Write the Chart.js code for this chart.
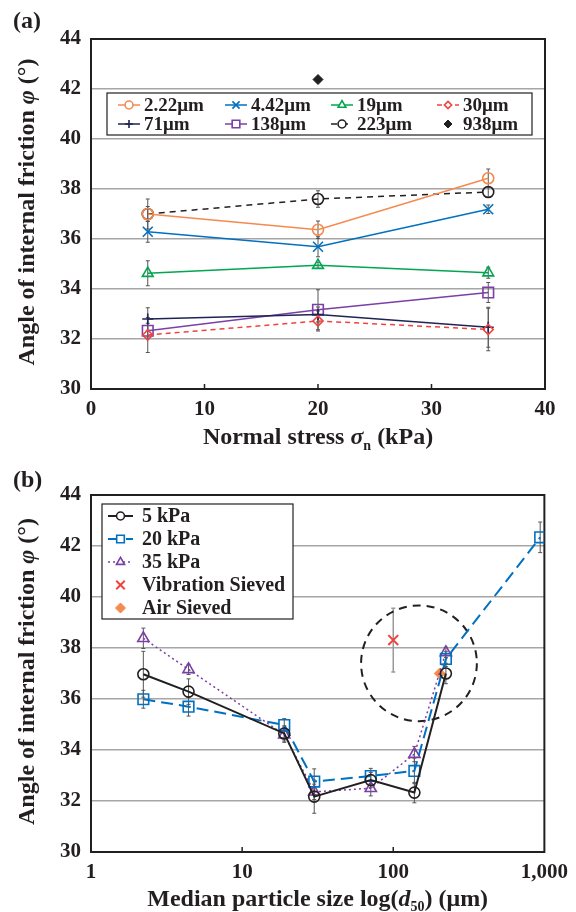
<!DOCTYPE html>
<html><head><meta charset="utf-8">
<script src="https://cdn.jsdelivr.net/npm/chart.js@4/dist/chart.umd.min.js"></script>
<style>
html,body{margin:0;padding:0;background:#fff;width:576px;height:912px;overflow:hidden}
.wrap{position:absolute;left:0;width:576px}
#wa{top:0;height:460px}
#wb{top:460px;height:452px}
</style></head><body>
<div class="wrap" id="wa"><canvas id="ca"></canvas></div>
<div class="wrap" id="wb"><canvas id="cb"></canvas></div>
<script>
// ---------- data: panel (a) ----------
const stressKPa = [5, 20, 35];
const phiA_2_22 = [37.00, 36.37, 38.43];
const errA_2_22 = [0.30, 0.35, 0.37];
const phiA_4_42 = [36.29, 35.69, 37.19];
const errA_4_42 = [0.42, 0.40, 0.17];
const phiA_19 = [34.63, 34.95, 34.65];
const errA_19 = [0.50, 0.12, 0.22];
const phiA_30 = [32.16, 32.72, 32.38];
const errA_30 = [0.70, 0.40, 0.85];
const phiA_71 = [32.80, 32.98, 32.47];
const errA_71 = [0.45, 0.30, 0.80];
const phiA_138 = [32.33, 33.17, 33.86];
const errA_138 = [0.30, 0.80, 0.40];
const phiA_223 = [37.00, 37.60, 37.88];
const errA_223 = [0.60, 0.33, 0.20];
const stress938 = [20];
const phiA_938 = [42.38];
const legendA = ['2.22μm', '4.42μm', '19μm', '30μm', '71μm', '138μm', '223μm', '938μm'];
const yTicks = [30, 32, 34, 36, 38, 40, 42, 44];
const xTicksA = [0, 10, 20, 30, 40];

// ---------- data: panel (b) ----------
const sizeB = [2.22, 4.42, 19, 30, 71, 138, 223];
const sizeB20 = [2.22, 4.42, 19, 30, 71, 138, 223, 938];
const phiB_5 = [36.97, 36.29, 34.65, 32.17, 32.82, 32.33, 37.00];
const errB_5 = [0.90, 0.50, 0.30, 0.65, 0.30, 0.40, 0.40];
const phiB_20 = [35.99, 35.70, 34.98, 32.76, 32.98, 33.18, 37.57, 42.34];
const errB_20 = [0.35, 0.37, 0.25, 0.50, 0.30, 0.50, 0.30, 0.60];
const phiB_35 = [38.38, 37.16, 34.60, 32.36, 32.50, 33.84, 37.83];
const errB_35 = [0.40, 0.20, 0.30, 0.30, 0.30, 0.30, 0.20];
const vibSize = [100];
const vibPhi = [38.31];
const vibErr = [1.25];
const airSize = [203];
const airPhi = [37.0];
const legendB = ['5 kPa', '20 kPa', '35 kPa', 'Vibration Sieved', 'Air Sieved'];
const xTicksB = [1, 10, 100, 1000];
const xTickLabelsB = ['1', '10', '100', '1,000'];
const circleSize = 148, circlePhi = 37.4, circleRadiusPhi = 2.27;

// ---------- helpers ----------
const SERIF = '"Liberation Serif", "Times New Roman", serif';
const INK = '#231f20';
const pts = (xs, ys) => xs.map((x, i) => ({x: x, y: ys[i]}));

function marker(ctx, style, r, x, y) {
  ctx.beginPath();
  if (style === 'circle') { ctx.arc(x, y, r, 0, Math.PI * 2); }
  else if (style === 'rect') { const s = r * Math.SQRT1_2; ctx.rect(x - s, y - s, 2 * s, 2 * s); }
  else if (style === 'rectRot') { ctx.moveTo(x, y - r); ctx.lineTo(x + r, y); ctx.lineTo(x, y + r); ctx.lineTo(x - r, y); ctx.closePath(); }
  else if (style === 'triangle') {
    ctx.moveTo(x, y - r);
    ctx.lineTo(x - r * Math.sin(Math.PI / 3), y + r * 0.5);
    ctx.lineTo(x + r * Math.sin(Math.PI / 3), y + r * 0.5);
    ctx.closePath();
  }
  else if (style === 'cross') { ctx.moveTo(x - r, y); ctx.lineTo(x + r, y); ctx.moveTo(x, y - r); ctx.lineTo(x, y + r); }
  else if (style === 'crossRot') { const s = r * Math.SQRT1_2; ctx.moveTo(x - s, y - s); ctx.lineTo(x + s, y + s); ctx.moveTo(x + s, y - s); ctx.lineTo(x - s, y + s); }
  if (style !== 'cross' && style !== 'crossRot') ctx.fill();
  ctx.stroke();
}

function drawRich(ctx, parts, x, y) {
  let total = 0;
  parts.forEach(p => { ctx.font = p.f; p.w = ctx.measureText(p.t).width; total += p.w; });
  let cx = x - total / 2;
  ctx.textAlign = 'left';
  ctx.textBaseline = 'middle';
  ctx.fillStyle = INK;
  parts.forEach(p => { ctx.font = p.f; ctx.fillText(p.t, cx, y + (p.dy || 0)); cx += p.w; });
}

const B24 = 'bold 24px ' + SERIF, BI24 = 'italic bold 24px ' + SERIF;
const B14 = 'bold 14px ' + SERIF;

// per-chart decoration settings (kept outside Chart.js options so they are not treated as scriptable)
const deco = {
  ca: {
    panel: '(a)', panelY: 22, xTitleY: 438,
    xTitle: [{t: 'Normal stress ', f: B24}, {t: 'σ', f: BI24}, {t: 'n', f: B14, dy: 8}, {t: ' (kPa)', f: B24}],
    legend: {x0: 107, y0: 93, x1: 532, y1: 135, lineLen: 22, gap: 4, font: 'bold 19px ' + SERIF,
      pos: i => ({x: [118, 225, 331, 437][i % 4], y: i < 4 ? 105 : 124})}
  },
  cb: {
    panel: '(b)', panelY: 21, xTitleY: 440,
    circle: {x: circleSize, y: circlePhi, r: circleRadiusPhi},
    xTitle: [{t: 'Median particle size log(', f: B24}, {t: 'd', f: BI24}, {t: '50', f: B14, dy: 7}, {t: ') (μm)', f: B24}],
    legend: {x0: 102, y0: 44, x1: 293, y1: 159, lineLen: 25, gap: 9, font: 'bold 20px ' + SERIF,
      pos: i => ({x: 108, y: 56 + i * 23})}
  }
};

// error bars, frame, inner ticks, annotations, titles, legend
const extras = {
  id: 'extras',
  beforeDatasetsDraw(chart) {
    const {ctx, chartArea: a, scales: {x, y}} = chart;
    const o = deco[chart.canvas.id];
    ctx.save();
    ctx.strokeStyle = INK; ctx.lineWidth = 2;
    ctx.strokeRect(a.left, a.top, a.right - a.left, a.bottom - a.top);
    ctx.lineWidth = 1.5;
    x.ticks.forEach((t, i) => {
      if (i === 0 || i === x.ticks.length - 1) return;
      const px = x.getPixelForValue(t.value);
      ctx.beginPath(); ctx.moveTo(px, a.bottom); ctx.lineTo(px, a.bottom - 5); ctx.stroke();
    });
    chart.data.datasets.forEach(ds => {
      if (!ds.errors) return;
      ctx.strokeStyle = ds.errColor || '#555';
      ctx.lineWidth = ds.errWidth || 1;
      ds.data.forEach((p, i) => {
        const e = ds.errors[i]; if (!e) return;
        const px = x.getPixelForValue(p.x);
        const y1 = y.getPixelForValue(p.y + e), y2 = y.getPixelForValue(p.y - e);
        ctx.beginPath();
        ctx.moveTo(px, y1); ctx.lineTo(px, y2);
        ctx.moveTo(px - 2, y1); ctx.lineTo(px + 2, y1);
        ctx.moveTo(px - 2, y2); ctx.lineTo(px + 2, y2);
        ctx.stroke();
      });
    });
    if (o.circle) {
      const cx = x.getPixelForValue(o.circle.x), cy = y.getPixelForValue(o.circle.y);
      const r = Math.abs(y.getPixelForValue(o.circle.y + o.circle.r) - cy);
      ctx.strokeStyle = INK; ctx.lineWidth = 2; ctx.setLineDash([8, 6]);
      ctx.beginPath(); ctx.arc(cx, cy, r, 0, Math.PI * 2); ctx.stroke();
      ctx.setLineDash([]);
    }
    ctx.restore();
  },
  afterDraw(chart) {
    const {ctx, chartArea: a} = chart;
    const o = deco[chart.canvas.id];
    ctx.save();
    ctx.font = 'bold 24px ' + SERIF; ctx.fillStyle = INK; ctx.textAlign = 'left'; ctx.textBaseline = 'middle';
    ctx.fillText(o.panel, 13, o.panelY);
    ctx.save();
    ctx.translate(28, (a.top + a.bottom) / 2 - 2);
    ctx.rotate(-Math.PI / 2);
    drawRich(ctx, [{t: 'Angle of internal friction ', f: B24}, {t: 'φ', f: BI24}, {t: ' (°)', f: B24}], 0, 0);
    ctx.restore();
    drawRich(ctx, o.xTitle, (a.left + a.right) / 2, o.xTitleY);
    const L = o.legend;
    ctx.fillStyle = '#fff'; ctx.fillRect(L.x0, L.y0, L.x1 - L.x0, L.y1 - L.y0);
    ctx.strokeStyle = INK; ctx.lineWidth = 1.2; ctx.strokeRect(L.x0, L.y0, L.x1 - L.x0, L.y1 - L.y0);
    chart.data.datasets.forEach((ds, i) => {
      const pos = L.pos(i);
      const lx0 = pos.x, lx1 = pos.x + L.lineLen, ly = pos.y;
      if (ds.showLine !== false) {
        ctx.strokeStyle = ds.borderColor; ctx.lineWidth = ds.borderWidth || 1.5;
        ctx.setLineDash(ds.borderDash || []);
        ctx.beginPath(); ctx.moveTo(lx0, ly); ctx.lineTo(lx1, ly); ctx.stroke();
        ctx.setLineDash([]);
      }
      ctx.strokeStyle = ds.pointBorderColor || ds.borderColor;
      ctx.fillStyle = ds.legendFill || '#fff';
      ctx.lineWidth = ds.pointBorderWidth || 1.5;
      marker(ctx, ds.pointStyle, ds.legendR, (lx0 + lx1) / 2, ly);
      ctx.font = L.font; ctx.fillStyle = INK; ctx.textAlign = 'left'; ctx.textBaseline = 'middle';
      ctx.fillText(ds.label, lx1 + L.gap, ly + 1);
    });
    ctx.restore();
  }
};

const baseScales = (xcfg, xh) => ({
  x: Object.assign({
    border: {display: false},
    grid: {display: false, drawTicks: false},
    ticks: {font: {family: SERIF, size: 21, weight: 'bold'}, color: INK, padding: 8, maxRotation: 0},
    afterFit: s => { s.height = xh; }
  }, xcfg),
  y: {
    min: 30, max: 44,
    border: {display: false},
    grid: {color: '#a6a6a6', lineWidth: 1.5, drawTicks: false},
    afterBuildTicks: s => { s.ticks = yTicks.map(v => ({value: v})); },
    ticks: {font: {family: SERIF, size: 21, weight: 'bold'}, color: INK, padding: 10},
    afterFit: s => { s.width = 91; }
  }
});

// ---------- chart (a) ----------
function seriesA(label, ys, errs, color, style, r, dash) {
  return {
    label: label, data: pts(stressKPa, ys), errors: errs,
    borderColor: color, pointBorderColor: color, backgroundColor: 'rgba(0,0,0,0)',
    pointBackgroundColor: 'rgba(0,0,0,0)', borderWidth: 1.5, pointBorderWidth: 1.6,
    pointStyle: style, pointRadius: r, borderDash: dash || [], showLine: true, legendR: r * 0.72
  };
}
new Chart(document.getElementById('ca'), {
  type: 'scatter',
  data: {datasets: [
    seriesA(legendA[0], phiA_2_22, errA_2_22, '#F58A4E', 'circle', 5.5),
    seriesA(legendA[1], phiA_4_42, errA_4_42, '#0070C0', 'crossRot', 7),
    seriesA(legendA[2], phiA_19, errA_19, '#00A651', 'triangle', 6.2),
    seriesA(legendA[3], phiA_30, errA_30, '#F0433F', 'rectRot', 5, [5, 4]),
    seriesA(legendA[4], phiA_71, errA_71, '#1F2454', 'cross', 5.5),
    seriesA(legendA[5], phiA_138, errA_138, '#7B3FA5', 'rect', 7.5),
    seriesA(legendA[6], phiA_223, errA_223, INK, 'circle', 5.5, [6, 5]),
    {label: legendA[7], data: pts(stress938, phiA_938), borderColor: INK, pointBorderColor: INK,
     pointBackgroundColor: INK, backgroundColor: INK, legendFill: INK, pointStyle: 'rectRot',
     pointRadius: 5, pointBorderWidth: 1, showLine: false, legendR: 4}
  ]},
  options: {
    responsive: true, maintainAspectRatio: false, animation: false,
    layout: {padding: {top: 39, right: 31, left: 0, bottom: 0}},
    scales: baseScales({type: 'linear', min: 0, max: 40,
      afterBuildTicks: s => { s.ticks = xTicksA.map(v => ({value: v})); }}, 71),
    plugins: {legend: {display: false}, tooltip: {enabled: false}}
  },
  plugins: [extras]
});

// ---------- chart (b) ----------
function seriesB(label, xs, ys, errs, color, style, r, dash, w) {
  return {
    label: label, data: pts(xs, ys), errors: errs,
    borderColor: color, pointBorderColor: color, backgroundColor: 'rgba(0,0,0,0)',
    pointBackgroundColor: 'rgba(0,0,0,0)', borderWidth: w, pointBorderWidth: 1.6,
    pointStyle: style, pointRadius: r, borderDash: dash, showLine: true, legendR: r * 0.72
  };
}
new Chart(document.getElementById('cb'), {
  type: 'scatter',
  data: {datasets: [
    seriesB(legendB[0], sizeB, phiB_5, errB_5, INK, 'circle', 5.5, [], 2),
    seriesB(legendB[1], sizeB20, phiB_20, errB_20, '#0070C0', 'rect', 7.5, [12, 6], 2),
    seriesB(legendB[2], sizeB, phiB_35, errB_35, '#7B3FA5', 'triangle', 6.5, [2, 3], 1.5),
    {label: legendB[3], data: pts(vibSize, vibPhi), errors: vibErr, errColor: '#9a9a9a', errWidth: 1.5,
     borderColor: '#F0433F', pointBorderColor: '#F0433F', pointStyle: 'crossRot', pointRadius: 7,
     pointBorderWidth: 2, showLine: false, legendR: 6},
    {label: legendB[4], data: pts(airSize, airPhi), borderColor: '#F58A4E', pointBorderColor: '#F58A4E',
     pointBackgroundColor: '#F58A4E', legendFill: '#F58A4E', pointStyle: 'rectRot', pointRadius: 5.5,
     pointBorderWidth: 1, showLine: false, legendR: 5}
  ]},
  options: {
    responsive: true, maintainAspectRatio: false, animation: false,
    layout: {padding: {top: 35, right: 31, left: 0, bottom: 0}},
    scales: baseScales({type: 'logarithmic', min: 1, max: 1000,
      afterBuildTicks: s => { s.ticks = xTicksB.map(v => ({value: v})); },
      ticks: {font: {family: SERIF, size: 21, weight: 'bold'}, color: INK, padding: 8, maxRotation: 0,
        callback: (v) => xTickLabelsB[xTicksB.indexOf(v)] ?? ''}}, 60),
    plugins: {legend: {display: false}, tooltip: {enabled: false}}
  },
  plugins: [extras]
});
</script>
</body></html>
